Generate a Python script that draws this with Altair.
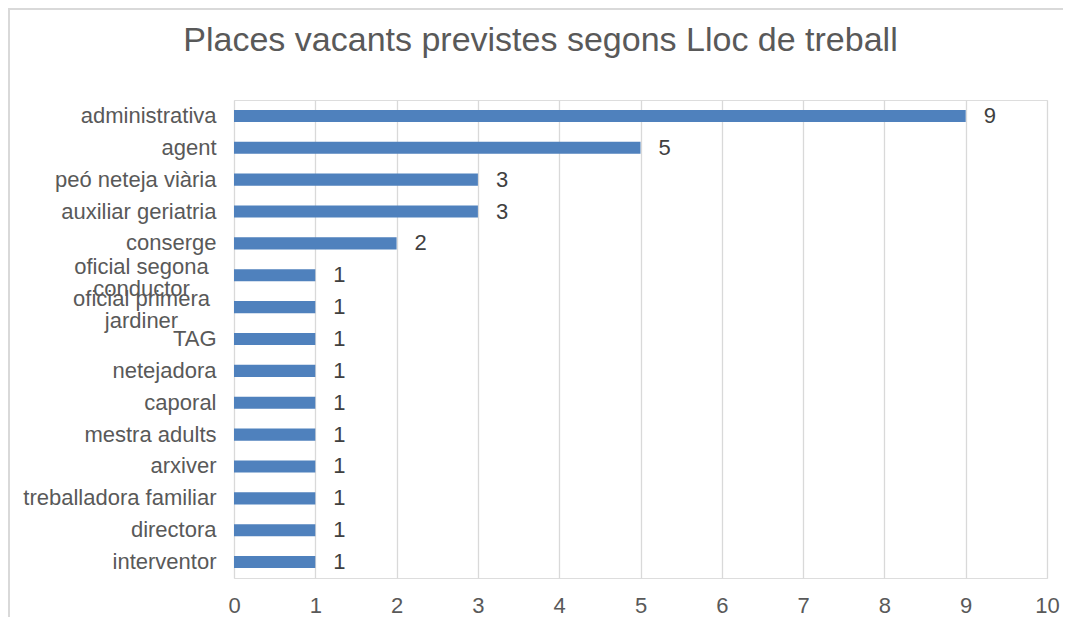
import altair as alt
import pandas as pd

categories = [
    "administrativa", "agent", "peó neteja viària", "auxiliar geriatria",
    "conserge", "oficial segona \nconductor", "oficial primera \njardiner",
    "TAG", "netejadora", "caporal", "mestra adults", "arxiver",
    "treballadora familiar", "directora", "interventor",
]
values = [9, 5, 3, 3, 2, 1, 1, 1, 1, 1, 1, 1, 1, 1, 1]
x_ticks = list(range(0, 11))

df = pd.DataFrame({"lloc": categories, "places": values})

FONT = "Liberation Sans"
W, H = 813, 478
PAD_L, PAD_T = 226, 92
PAD_R = 1055 - PAD_L - W
PAD_B = 609 - PAD_T - H

MULTI = "indexof(datum.value, '\\n') >= 0"

base = alt.Chart(df)

y_enc = alt.Y(
    "lloc:N",
    sort=categories,
    title=None,
    scale=alt.Scale(paddingInner=0.62, paddingOuter=0.31),
    axis=alt.Axis(
        ticks=False,
        domain=False,
        labelFont=FONT,
        labelFontSize=22,
        labelColor="#595959",
        labelLineHeight=22,
        labelLimit=400,
        labelExpr="split(datum.label, '\\n')",
        labelAlign=alt.condition(MULTI, alt.value("center"), alt.value("right")),
        labelPadding=alt.condition(MULTI, alt.value(93), alt.value(18)),
        labelOffset=alt.condition(MULTI, alt.value(-8), alt.value(0)),
    ),
)

x_enc = alt.X(
    "places:Q",
    title=None,
    scale=alt.Scale(domain=[0, 10], nice=False),
    axis=alt.Axis(
        values=x_ticks,
        format="d",
        grid=True,
        gridColor="#d9d9d9",
        gridWidth=1.3,
        ticks=False,
        domain=False,
        labelFlush=False,
        labelFont=FONT,
        labelFontSize=22,
        labelColor="#595959",
        labelPadding=17,
    ),
)

bars = base.mark_bar(color="#4f81bd").encode(x=x_enc, y=y_enc)

labels = base.mark_text(
    align="left", baseline="middle", dx=18, font=FONT, fontSize=22, color="#404040"
).encode(x="places:Q", y=alt.Y("lloc:N", sort=categories), text="places:Q")

border = base.mark_rect(fill=None, stroke="#d9d9d9", strokeWidth=2).encode(
    x=alt.value(-PAD_L + 1),
    y=alt.value(-PAD_T + 1),
    x2=alt.value(W + PAD_R + 2),
    y2=alt.value(H + PAD_B + 2),
)

chart = (
    alt.layer(border, bars, labels)
    .properties(
        width=W,
        height=H,
        padding={"left": PAD_L, "top": PAD_T, "right": PAD_R, "bottom": PAD_B},
        autosize=alt.AutoSizeParams(type="none"),
        title=alt.TitleParams(
            "Places vacants previstes segons Lloc de treball",
            font=FONT,
            fontSize=34,
            fontWeight="normal",
            color="#595959",
            anchor="middle",
            dx=-100,
            offset=-50,
        ),
    )
    .configure_view(stroke=None)
    .configure(background="white")
)

chart.save("out.html", embed_options={"renderer": "svg", "actions": False})
